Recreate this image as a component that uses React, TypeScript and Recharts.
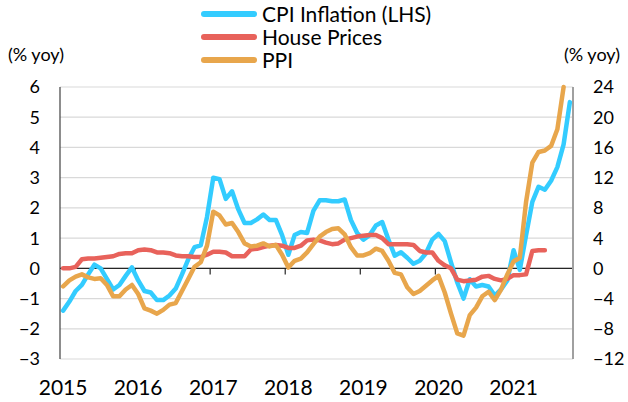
import React from 'react';
import {
  LineChart,
  Line,
  XAxis,
  YAxis,
  CartesianGrid,
  ReferenceLine,
} from 'recharts';

// monthly series, Jan 2015 onwards
const years = ['2015', '2016', '2017', '2018', '2019', '2020', '2021'];
const totalMonths = 82;

// CPI inflation, % yoy (left axis)
const cpi = [
  -1.4, -1.1, -0.75, -0.55, -0.2, 0.12, 0.0, -0.35, -0.7, -0.55,
  -0.25, 0.03, -0.4, -0.75, -0.8, -1.05, -1.05, -0.9, -0.67, -0.2,
  0.3, 0.7, 0.76, 1.7, 3.0, 2.95, 2.3, 2.55, 1.95, 1.5,
  1.5, 1.62, 1.78, 1.6, 1.6, 1.1, 0.45, 1.1, 1.2, 1.17,
  1.9, 2.25, 2.25, 2.22, 2.22, 2.28, 1.6, 1.17, 0.95, 1.1,
  1.42, 1.53, 0.95, 0.42, 0.53, 0.35, 0.15, 0.25, 0.5, 0.95,
  1.14, 0.9, 0.2, -0.47, -1.0, -0.36, -0.6, -0.55, -0.6, -0.9,
  -0.7, -0.4, 0.6, -0.05, 1.1, 2.2, 2.7, 2.6, 2.9, 3.35,
  4.1, 5.5,
];

// house prices, % yoy (right axis)
const housePrices = [
  0, 0, 0.2, 1.2, 1.3, 1.3, 1.4, 1.5, 1.6, 1.9,
  2.0, 2.0, 2.4, 2.5, 2.4, 2.1, 2.1, 2.0, 1.7, 1.6,
  1.6, 1.5, 1.5, 1.8, 2.2, 2.2, 2.1, 1.6, 1.6, 1.6,
  2.5, 2.6, 2.8, 3.0, 3.1, 3.0, 2.7, 2.7, 3.0, 3.7,
  3.8, 3.7, 3.4, 3.2, 3.3, 3.8, 4.0, 4.2, 4.3, 4.4,
  4.4, 4.0, 3.2, 3.2, 3.2, 3.2, 3.1, 2.3, 2.1, 2.1,
  1.0, 0.4, 0.0, -1.5, -1.7, -1.6, -1.5, -1.1, -1.0, -1.4,
  -1.6, -1.4, -0.9, -0.9, -0.8, 2.3, 2.4, 2.4,
];

// PPI, % yoy (right axis)
const ppi = [
  -2.4, -1.6, -1.1, -0.8, -1.2, -1.4, -1.3, -2.2, -3.7, -3.7,
  -2.8, -2.2, -3.4, -5.3, -5.6, -6.0, -5.5, -4.8, -4.6, -3.0,
  -1.4, 0.2, 0.8, 3.0, 7.5, 7.0, 5.8, 6.0, 4.8, 3.3,
  2.9, 3.0, 3.3, 2.9, 3.1, 1.8, 0.1, 1.0, 1.3, 2.1,
  3.2, 4.2, 4.8, 5.2, 5.3, 4.5, 2.8, 1.7, 1.7, 2.0,
  2.6, 2.3, 1.0, -0.6, -0.8, -2.5, -3.4, -3.0, -2.3, -1.6,
  -1.0, -3.2, -6.0, -8.6, -8.9, -6.2, -5.2, -3.7, -3.1, -4.2,
  -2.8, -0.8, 0.9, 1.4, 8.8, 14.0, 15.4, 15.6, 16.2, 18.4,
  24.0,
];

const leftTicks = [-3, -2, -1, 0, 1, 2, 3, 4, 5, 6];
const rightTicks = [-12, -8, -4, 0, 4, 8, 12, 16, 20, 24];

const series = [
  { key: 'cpi', name: 'CPI Inflation (LHS)', color: '#33CCFF', axis: 'left' },
  { key: 'house', name: 'House Prices', color: '#E8625B', axis: 'right' },
  { key: 'ppi', name: 'PPI', color: '#E8A64C', axis: 'right' },
];

// each month sits in the middle of its slot on the date axis
const data = Array.from({ length: totalMonths }, (_, i) => ({
  x: i + 0.5,
  cpi: cpi[i],
  house: housePrices[i],
  ppi: ppi[i],
}));

const yearLabelTicks = years.map((_, k) => k * 12 + 0.5);
const yearBoundaries = years.slice(1).map((_, k) => (k + 1) * 12);

const FONT = 'Lato, "Noto Sans", sans-serif';

const minusSign = (v: number) => (v < 0 ? `\u2212${Math.abs(v)}` : `${v}`);

// legend sits above the plot, drawn outside recharts so it doesn't eat plot height
const LegendBox = () => (
  <div
    style={{
      position: 'absolute',
      left: 200,
      top: 2,
      fontFamily: FONT,
      fontSize: 21,
      color: '#000',
      lineHeight: '23px',
      zIndex: 2,
    }}
  >
    {series.map((s) => (
      <div key={s.key} style={{ display: 'flex', alignItems: 'center', height: 23 }}>
        <svg width={60} height={23} style={{ marginRight: 2 }}>
          <line x1={4} y1={12} x2={54} y2={12} stroke={s.color} strokeWidth={6} strokeLinecap="round" />
        </svg>
        <span>{s.name}</span>
      </div>
    ))}
  </div>
);

const UnitLabel = ({ x }: { x: number }) => (
  <text x={x} y={61} textAnchor="middle" fontFamily={FONT} fontSize={18} fill="#000">
    (% yoy)
  </text>
);

export default function App() {
  return (
    <div style={{ position: 'absolute', left: 0, top: 0, width: 628, height: 402, background: '#fff' }}>
      <LegendBox />
      <LineChart
        width={628}
        height={402}
        data={data}
        margin={{ top: 87, right: 0, bottom: 3, left: 0 }}
      >
        <CartesianGrid
          yAxisId="left"
          horizontal
          vertical={false}
          stroke="#D9D9D9"
          strokeWidth={1.2}
        />
        <XAxis
          dataKey="x"
          type="number"
          domain={[0, totalMonths]}
          ticks={yearLabelTicks}
          tickFormatter={(v: number) => years[Math.round((v - 0.5) / 12)]}
          axisLine={false}
          tickLine={false}
          tickSize={0}
          tickMargin={21}
          height={40}
          interval={0}
          tick={{ fontFamily: FONT, fontSize: 21, fill: '#000' }}
        />
        <YAxis
          yAxisId="left"
          orientation="left"
          domain={[-3, 6]}
          ticks={leftTicks}
          width={60}
          interval={0}
          tickFormatter={minusSign}
          axisLine={{ stroke: '#404040', strokeWidth: 1.2 }}
          tickLine={false}
          tickSize={0}
          tickMargin={20}
          tick={{ fontFamily: FONT, fontSize: 18, fill: '#000' }}
          label={{ content: () => <UnitLabel x={36} /> }}
        />
        <YAxis
          yAxisId="right"
          orientation="right"
          domain={[-12, 24]}
          ticks={rightTicks}
          width={55}
          interval={0}
          tickFormatter={minusSign}
          axisLine={{ stroke: '#A0A0A0', strokeWidth: 2 }}
          tickLine={false}
          tickSize={0}
          tickMargin={20}
          tick={{ fontFamily: FONT, fontSize: 18, fill: '#000' }}
          label={{ content: () => <UnitLabel x={592} /> }}
        />
        <ReferenceLine yAxisId="left" y={0} stroke="#262626" strokeWidth={1.2} />
        {yearBoundaries.map((b) => (
          <ReferenceLine
            key={b}
            yAxisId="left"
            segment={[{ x: b, y: 0 }, { x: b, y: -0.2 }]}
            stroke="#262626"
            strokeWidth={1.2}
          />
        ))}
        {series.map((s) => (
          <Line
            key={s.key}
            yAxisId={s.axis}
            dataKey={s.key}
            name={s.name}
            type="linear"
            stroke={s.color}
            strokeWidth={4.5}
            strokeLinejoin="round"
            strokeLinecap="round"
            dot={false}
            activeDot={false}
            isAnimationActive={false}
          />
        ))}
      </LineChart>
    </div>
  );
}
